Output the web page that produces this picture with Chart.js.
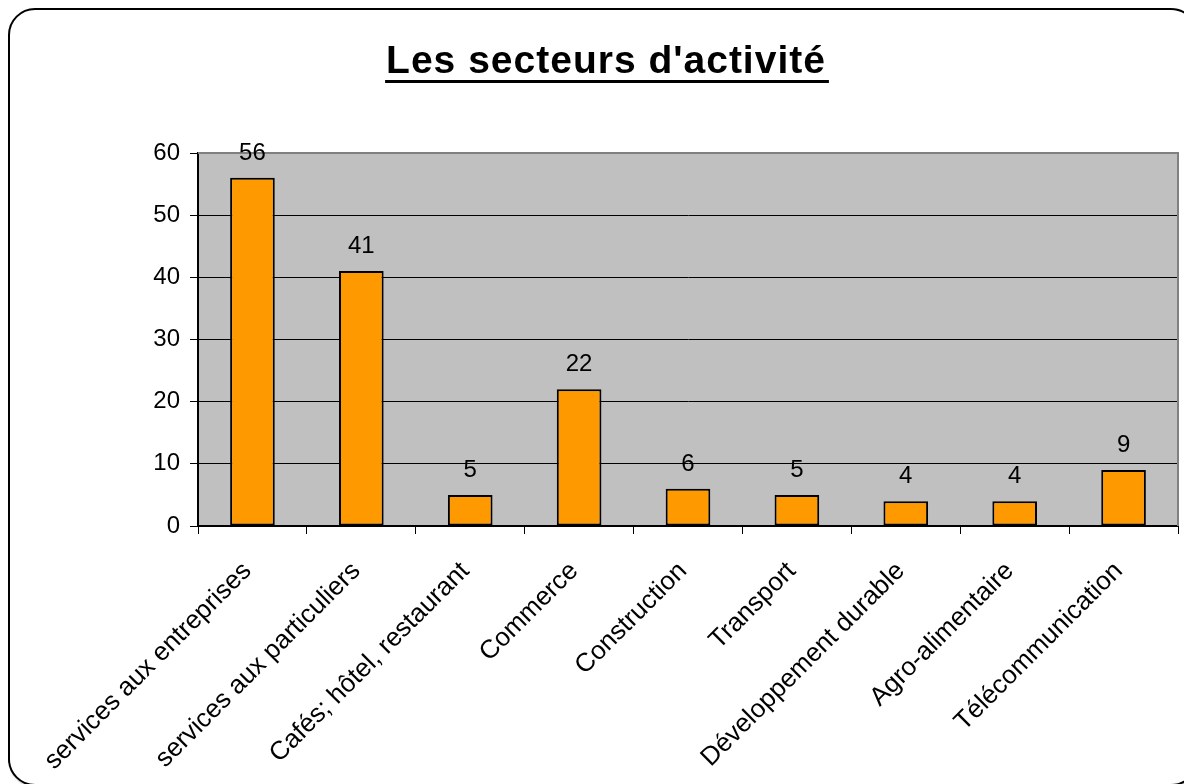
<!DOCTYPE html>
<html>
<head>
<meta charset="utf-8">
<script src="https://cdn.jsdelivr.net/npm/chart.js@4"></script>
<style>
  html, body { margin: 0; padding: 0; background: #fff; overflow: hidden; }
  #wrap { position: relative; width: 1184px; height: 784px; overflow: hidden; }
  #frame { position: absolute; left: 8px; top: 8px; width: 1186px; height: 774px; border: 2px solid #000; border-radius: 27px; box-shadow: 2px 2px 2px #aaa; }
  canvas { position: absolute; left: 0; top: 0; }
</style>
</head>
<body>
<div id="wrap">
  <div id="frame"></div>
  <canvas id="chart" width="1184" height="784"></canvas>
</div>
<script>
const titleText = "Les secteurs d'activité";
const categories = ["services aux entreprises", "services aux particuliers", "Cafés; hôtel, restaurant", "Commerce", "Construction", "Transport", "Développement durable", "Agro-alimentaire", "Télécommunication"];
const counts = [56, 41, 5, 22, 6, 5, 4, 4, 9];
const yTicks = [0, 10, 20, 30, 40, 50, 60];

const font = "'Liberation Sans', Arial, sans-serif";

// grey plot background, plot border, title and value labels
const decorations = {
  id: "decorations",
  beforeDraw(chart) {
    const { ctx, chartArea: a } = chart;
    ctx.save();
    ctx.fillStyle = "#c0c0c0";
    ctx.fillRect(a.left, a.top, a.right - a.left, a.bottom - a.top);
    ctx.restore();
  },
  afterDatasetsDraw(chart) {
    const { ctx, chartArea: a } = chart;
    ctx.save();
    ctx.strokeStyle = "#808080";
    ctx.lineWidth = 2;
    ctx.beginPath();
    ctx.moveTo(a.left, a.top);
    ctx.lineTo(a.right, a.top);
    ctx.lineTo(a.right, a.bottom);
    ctx.stroke();

    ctx.fillStyle = "#000";
    ctx.font = "24px " + font;
    ctx.textAlign = "center";
    ctx.textBaseline = "alphabetic";
    chart.getDatasetMeta(0).data.forEach((bar, i) => {
      ctx.fillText(String(counts[i]), bar.x, bar.y - 18);
    });

    ctx.font = "bold 39px " + font;
    ctx.letterSpacing = "1px";
    const tx = 606, ty = 73;
    ctx.fillText(titleText, tx, ty);
    const w = ctx.measureText(titleText).width;
    ctx.fillRect(tx - w / 2 - 1, ty + 7, w + 4, 3);
    ctx.restore();
  }
};

new Chart(document.getElementById("chart"), {
  type: "bar",
  data: {
    labels: categories,
    datasets: [{
      data: counts,
      backgroundColor: "#ff9900",
      borderColor: "#000",
      borderWidth: 2,
      borderSkipped: false,
      categoryPercentage: 1,
      barPercentage: 0.41
    }]
  },
  options: {
    responsive: false,
    animation: false,
    events: [],
    layout: { padding: { top: 153, right: 6, left: 0, bottom: 0 } },
    plugins: { legend: { display: false }, title: { display: false }, tooltip: { enabled: false } },
    scales: {
      x: {
        afterFit(scale) { scale.height = 258; },
        grid: { display: true, drawOnChartArea: false, color: "#000", tickLength: 8, offset: true },
        border: { color: "#000", width: 2 },
        ticks: { color: "#000", font: { family: font, size: 26 }, minRotation: 45, maxRotation: 45, autoSkip: false, padding: 22, labelOffset: -5 }
      },
      y: {
        min: 0,
        max: 60,
        afterFit(scale) { scale.width = 198; },
        afterBuildTicks(scale) { scale.ticks = yTicks.map(v => ({ value: v })); },
        grid: { color: "#000", lineWidth: 1, tickLength: 8 },
        border: { color: "#000", width: 2 },
        ticks: { color: "#000", font: { family: font, size: 24 }, padding: 10 }
      }
    }
  },
  plugins: [decorations]
});
</script>
</body>
</html>
